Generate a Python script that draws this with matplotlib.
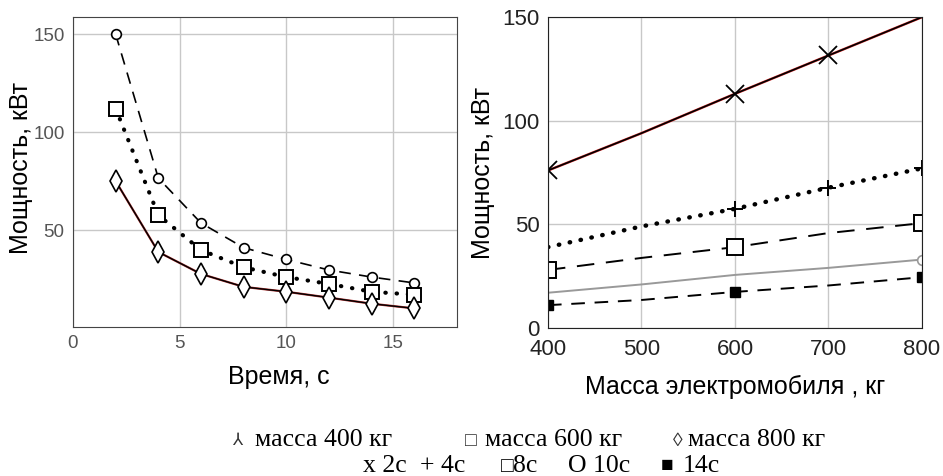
import numpy as np
import matplotlib.pyplot as plt

# left panel: power vs time
time_s = [2, 4, 6, 8, 10, 12, 14, 16]
p_m400 = [150, 76.5, 53.6, 41, 35, 29.6, 26, 23]
p_m600 = [112, 57.6, 39.8, 31, 26, 22.5, 18.5, 17]
p_m800 = [75, 38.8, 27.6, 21, 18.5, 15.5, 12.4, 10]

# right panel: power vs mass
mass_kg = [400, 500, 600, 700, 800]
p_t2 = [76, 94, 113, 131.5, 150]
p_t4 = [39, 49, 57.5, 67.7, 77]
p_t8 = [28, 33.8, 39, 45.8, 50.6]
p_t10 = [17, 21, 25.6, 29, 33]
p_t14 = [11, 13.5, 17.4, 20.5, 24.5]

# legend captions (symbol, text)
legend_row1 = [('\u2144', 'масса 400 кг'), ('\u25a1', 'масса 600 кг'), ('\u25ca', 'масса 800 кг')]
legend_row2 = [('', 'x 2с'), ('', '+ 4с'), ('\u25a1', '8с'), ('', 'O 10с'), ('\u25a0', '14с')]

plt.rcParams['font.family'] = ['Liberation Sans', 'DejaVu Sans']

fig = plt.figure(figsize=(9.43, 4.76), dpi=100)
grid_c = '#c8c8c8'

ax1 = fig.add_axes([0.0774, 0.313, 0.4072, 0.651])
ax1.plot(time_s, p_m400, color='black', ls=(0, (7, 5)), lw=1.2, marker='o', ms=7,
         mfc='white', mec='black', mew=1.2, clip_on=False)
ax1.plot(time_s, p_m600, color='black', ls=(0, (0.1, 2.6)), lw=3, dash_capstyle='round',
         marker='s', ms=10, mfc='white', mec='black', mew=1.4, clip_on=False)
ax1.plot(time_s, p_m800, color='#b03030', lw=1.6, clip_on=False)
ax1.plot(time_s, p_m800, color='black', lw=1.0, marker='d', ms=11,
         mfc='white', mec='black', mew=1.2, clip_on=False)
ax1.set_xlim(0, 18)
ax1.set_ylim(0.5, 158.7)
ax1.set_xticks([0, 5, 10, 15])
ax1.set_yticks([50, 100, 150])
ax1.grid(True, color=grid_c, lw=1)
ax1.tick_params(length=0, labelsize=13.5, labelcolor='#555555', pad=6)
for s in ax1.spines.values():
    s.set_color('#444444')
ax1.set_xlabel('Время, с', fontsize=18)
ax1.set_ylabel('Мощность, кВт', fontsize=18)
ax1.xaxis.set_label_coords(0.536, -0.123)
ax1.yaxis.set_label_coords(-0.135, 0.513)
ax1.yaxis.label.set_va('center')

ax2 = fig.add_axes([0.5811, 0.311, 0.3966, 0.653])
ax2.plot(mass_kg, p_t2, color='#e03030', lw=1.8)
ax2.plot(mass_kg, p_t2, color='black', lw=1.2)
ax2.plot([400, 600, 700], [p_t2[0], p_t2[2], p_t2[3]], ls='none', marker='x',
         ms=13, mec='black', mew=1.3)
ax2.plot(mass_kg, p_t4, color='black', ls=(0, (0.1, 2.4)), lw=3.2, dash_capstyle='round')
ax2.plot([600, 700, 800], p_t4[2:], ls='none', marker='+', ms=11, mec='black', mew=1.4)
ax2.plot(mass_kg, p_t8, color='black', ls=(0, (9, 6)), lw=1.4)
ax2.plot([400, 600, 800], [p_t8[0], p_t8[2], p_t8[4]], ls='none', marker='s', ms=11,
         mfc='white', mec='black', mew=1.4)
ax2.plot(mass_kg, p_t10, color='#999999', lw=1.4)
ax2.plot([800], [p_t10[4]], ls='none', marker='o', ms=7, mfc='white', mec='#999999', mew=1.2)
ax2.plot(mass_kg, p_t14, color='black', ls=(0, (7, 5)), lw=1.4)
ax2.plot([400, 600, 800], [p_t14[0], p_t14[2], p_t14[4]], ls='none', marker='s', ms=7,
         mfc='black', mec='black')
ax2.set_xlim(400, 800)
ax2.set_ylim(0, 150)
ax2.set_xticks([400, 500, 600, 700, 800])
ax2.set_yticks([0, 50, 100, 150])
ax2.grid(True, color=grid_c, lw=1)
ax2.tick_params(axis='y', length=0, labelsize=16, labelcolor='#222222', pad=6)
ax2.tick_params(axis='x', length=0, labelsize=16, labelcolor='#222222', pad=8)
for s in ax2.spines.values():
    s.set_color('#222222')
ax2.set_xlabel('Масса электромобиля , кг', fontsize=18)
ax2.set_ylabel('Мощность, кВт', fontsize=18)
ax2.xaxis.set_label_coords(0.5, -0.151)
ax2.yaxis.set_label_coords(-0.174, 0.5)
ax2.yaxis.label.set_va('center')

fam = ['Liberation Serif', 'DejaVu Sans']
row1_sym_x = [232, 465, 673]
row1_txt_x = [255, 485, 688]
row1_sym_size = [12, 14, 14]
for xs, xt, fs, (sym, t) in zip(row1_sym_x, row1_txt_x, row1_sym_size, legend_row1):
    fig.text(xs / 943, 1 - 441 / 476, sym, fontsize=fs, family=fam, color='#333333',
             va='center', ha='left')
    fig.text(xt / 943, 1 - 440 / 476, t, fontsize=18.5, family=fam, va='center', ha='left')
row2_sym_x = [363, 420, 501, 568, 661]
row2_txt_x = [363, 420, 513, 568, 683]
for xs, xt, (sym, t) in zip(row2_sym_x, row2_txt_x, legend_row2):
    if sym:
        fig.text(xs / 943, 1 - 467 / 476, sym, fontsize=15, family=fam,
                 va='center', ha='left')
    fig.text(xt / 943, 1 - 466 / 476, t, fontsize=18.5, family=fam, va='center', ha='left')

fig.savefig('out.png', dpi=100)
